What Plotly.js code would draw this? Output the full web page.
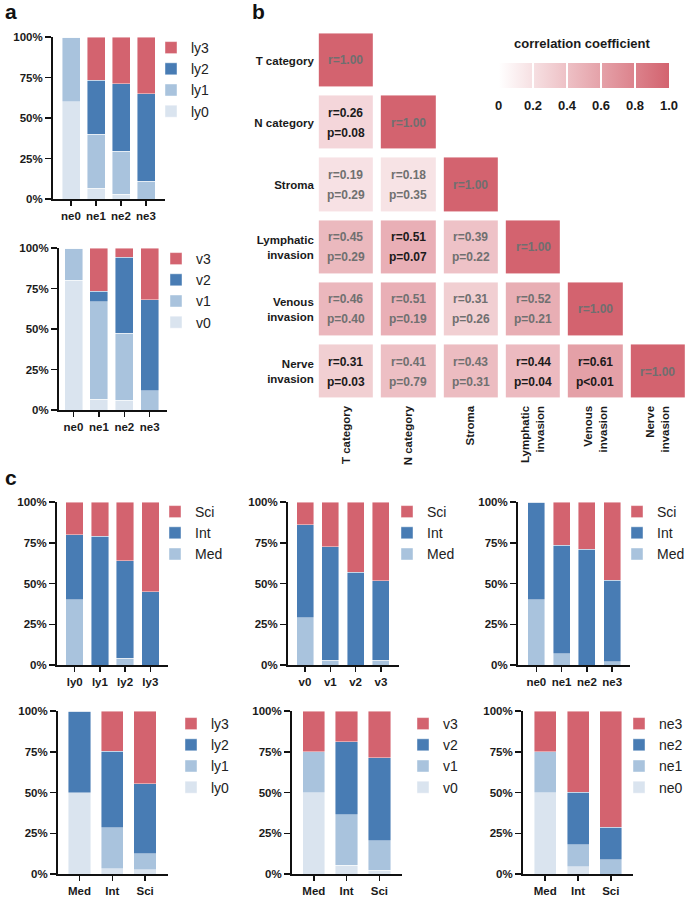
<!DOCTYPE html>
<html>
<head>
<meta charset="utf-8">
<script src="https://cdn.plot.ly/plotly-3.0.1.min.js"></script>
<style>
  html, body { margin: 0; padding: 0; background: #fff; }
  #chart { width: 685px; height: 897px; }
</style>
</head>
<body>
<div id="chart"></div>
<script>
const W = 685, H = 897;
const FONT = "Liberation Sans, Arial, sans-serif";

// category labels
const neCats = ["ne0", "ne1", "ne2", "ne3"];
const lyCats = ["ly0", "ly1", "ly2", "ly3"];
const vCats = ["v0", "v1", "v2", "v3"];
const siteCats = ["Med", "Int", "Sci"];
const pctTicks = [0, 25, 50, 75, 100];
const pctTickText = ["0%", "25%", "50%", "75%", "100%"];

// percent shares: one row per stacked level, one column per x category
const lyWithinNe = [
  [60, 6.7, 3, 0],
  [40, 33.3, 26.5, 11],
  [0, 33.3, 41.5, 54],
  [0, 26.7, 29, 35]
];
const vWithinNe = [
  [80, 6.7, 6, 0],
  [20, 60, 41.3, 12],
  [0, 6.7, 47.1, 56],
  [0, 26.6, 5.6, 32]
];
const siteWithinLy = [
  [40, 0, 4, 0],
  [40, 79, 60, 45],
  [20, 21, 36, 55]
];
const siteWithinV = [
  [29, 3, 0, 3],
  [57, 69.4, 57, 48.7],
  [14, 27.6, 43, 48.3]
];
const siteWithinNe = [
  [40, 7, 0, 2],
  [60, 66.6, 71, 50],
  [0, 26.4, 29, 48]
];
const lyWithinSite = [
  [50, 3.3, 2.6],
  [0, 25, 9.7],
  [50, 47, 43],
  [0, 24.7, 44.7]
];
const vWithinSite = [
  [50, 5.5, 2.4],
  [25, 31, 18],
  [0, 44.5, 51],
  [25, 19, 28.6]
];
const neWithinSite = [
  [50, 4.3, 0],
  [25, 13.5, 8.6],
  [0, 32.5, 20.2],
  [25, 49.7, 71.2]
];

// correlation matrix (lower triangle)
const factorLabels = ["T category", "N category", "Stroma", "Lymphatic<br>invasion", "Venous<br>invasion", "Nerve<br>invasion"];
const corrR = [
  [1.00, null, null, null, null, null],
  [0.26, 1.00, null, null, null, null],
  [0.19, 0.18, 1.00, null, null, null],
  [0.45, 0.51, 0.39, 1.00, null, null],
  [0.46, 0.51, 0.31, 0.52, 1.00, null],
  [0.31, 0.41, 0.43, 0.44, 0.61, 1.00]
];
const corrP = [
  [null, null, null, null, null, null],
  ["0.08", null, null, null, null, null],
  ["0.29", "0.35", null, null, null, null],
  ["0.29", "0.07", "0.22", null, null, null],
  ["0.40", "0.19", "0.26", "0.21", null, null],
  ["0.03", "0.79", "0.31", "0.04", "<0.01", null]
];
const colorbarTicks = [0, 0.2, 0.4, 0.6, 0.8, 1.0];
const colorbarTickText = ["0", "0.2", "0.4", "0.6", "0.8", "1.0"];

const levelColors = ["#DAE4EF", "#A9C3DD", "#487CB4", "#D3636F"];
const siteColors = ["#A9C3DD", "#487CB4", "#D3636F"];
const heatRed = "#D3636F";

// panel geometry in pixels
const panels = [
  { cats: neCats, series: lyCats, values: lyWithinNe, colors: levelColors,
    geo: { axisX: 53, endX: 165, first: 71, step: 25, barW: 18, top: 37, bottom: 199 },
    leg: { textX: 191, firstY: 47 } },
  { cats: neCats, series: vCats, values: vWithinNe, colors: levelColors,
    geo: { axisX: 59, endX: 167, first: 73.5, step: 25.4, barW: 18, top: 248, bottom: 410 },
    leg: { textX: 196, firstY: 258 } },
  { cats: lyCats, series: siteCats, values: siteWithinLy, colors: siteColors,
    geo: { axisX: 57, endX: 168, first: 74.7, step: 25.2, barW: 17.5, top: 502, bottom: 665 },
    leg: { textX: 195, firstY: 511 } },
  { cats: vCats, series: siteCats, values: siteWithinV, colors: siteColors,
    geo: { axisX: 288, endX: 399, first: 305, step: 25.3, barW: 17, top: 502, bottom: 665 },
    leg: { textX: 427, firstY: 511 } },
  { cats: neCats, series: siteCats, values: siteWithinNe, colors: siteColors,
    geo: { axisX: 518, endX: 630, first: 536.3, step: 25.3, barW: 17, top: 502, bottom: 665 },
    leg: { textX: 657, firstY: 511 } },
  { cats: siteCats, series: lyCats, values: lyWithinSite, colors: levelColors,
    geo: { axisX: 58, endX: 168, first: 79.5, step: 32.8, barW: 22.3, top: 711, bottom: 874 },
    leg: { textX: 211, firstY: 723 } },
  { cats: siteCats, series: vCats, values: vWithinSite, colors: levelColors,
    geo: { axisX: 292, endX: 402, first: 313.8, step: 32.8, barW: 22.3, top: 711, bottom: 874 },
    leg: { textX: 443, firstY: 723 } },
  { cats: siteCats, series: neCats, values: neWithinSite, colors: levelColors,
    geo: { axisX: 523, endX: 633, first: 545.2, step: 32.8, barW: 22, top: 711, bottom: 874 },
    leg: { textX: 659, firstY: 723 } }
];

// colour bar placement (pixels)
const cbar = { left: 499, width: 170, top: 63, thick: 25, labelY: 105 };

const traces = [];
const layout = {
  width: W,
  height: H,
  margin: { l: 0, r: 0, t: 0, b: 0, autoexpand: false },
  paper_bgcolor: "#ffffff",
  plot_bgcolor: "rgba(0,0,0,0)",
  barmode: "stack",
  showlegend: true,
  font: { family: FONT, color: "#1a1a1a" },
  annotations: []
};

panels.forEach((p, k) => {
  const ax = k === 0 ? "" : String(k + 1);
  const legName = k === 0 ? "legend" : "legend" + (k + 1);
  const g = p.geo;

  p.series.forEach((name, s) => {
    traces.push({
      type: "bar",
      x: p.cats,
      y: p.values[s],
      name: name,
      width: g.barW / g.step,
      marker: { color: p.colors[s], line: { color: "rgba(255,255,255,0.55)", width: 0.8 } },
      xaxis: "x" + ax,
      yaxis: "y" + ax,
      legend: legName,
      hovertemplate: name + ": %{y:.1f}%<extra></extra>"
    });
  });

  layout["xaxis" + ax] = {
    domain: [g.axisX / W, g.endX / W],
    anchor: "y" + ax,
    type: "category",
    range: [-(g.first - g.axisX) / g.step, (g.endX - g.first) / g.step],
    showline: true,
    linewidth: 2,
    linecolor: "#111",
    ticks: "outside",
    ticklen: 5,
    tickwidth: 1.5,
    tickcolor: "#111",
    tickfont: { size: 11.5, weight: "bold", color: "#1a1a1a" },
    showgrid: false,
    zeroline: false,
    fixedrange: true
  };
  layout["yaxis" + ax] = {
    domain: [1 - g.bottom / H, 1 - g.top / H],
    anchor: "x" + ax,
    range: [0, 100],
    tickmode: "array",
    tickvals: pctTicks,
    ticktext: pctTickText,
    showline: true,
    linewidth: 2,
    linecolor: "#111",
    ticks: "outside",
    ticklen: 6,
    tickwidth: 1.5,
    tickcolor: "#111",
    tickfont: { size: 11.5, weight: "bold", color: "#1a1a1a" },
    showgrid: false,
    zeroline: false,
    fixedrange: true
  };
  layout[legName] = {
    x: (p.leg.textX - 40) / W,
    xanchor: "left",
    y: 1 - (p.leg.firstY - 15) / H,
    yanchor: "top",
    traceorder: "reversed",
    bgcolor: "rgba(0,0,0,0)",
    borderwidth: 0,
    font: { family: FONT, size: 14, color: "#222" }
  };
});

// correlation heatmap
traces.push({
  type: "heatmap",
  z: corrR,
  x: factorLabels,
  y: factorLabels,
  xaxis: "x9",
  yaxis: "y9",
  zmin: 0,
  zmax: 1,
  colorscale: [[0, "#ffffff"], [1, heatRed]],
  xgap: 8,
  ygap: 9,
  hoverongaps: false,
  showscale: true,
  colorbar: {
    orientation: "h",
    x: cbar.left / W,
    xanchor: "left",
    y: 1 - cbar.top / H,
    yanchor: "top",
    len: cbar.width,
    lenmode: "pixels",
    thickness: cbar.thick,
    thicknessmode: "pixels",
    outlinewidth: 0,
    xpad: 0,
    ypad: 0,
    tickmode: "array",
    tickvals: colorbarTicks,
    ticks: "inside",
    ticklen: cbar.thick,
    tickwidth: 1.5,
    tickcolor: "#ffffff",
    showticklabels: false
  }
});

// colour bar tick labels, placed along the bar from the tick values
colorbarTicks.forEach((t, i) => {
  layout.annotations.push({
    x: (cbar.left + t * cbar.width) / W,
    y: 1 - cbar.labelY / H,
    xref: "paper", yref: "paper",
    xanchor: "center", yanchor: "middle",
    text: colorbarTickText[i], showarrow: false,
    font: { size: 13, weight: "bold", color: "#1a1a1a" }
  });
});

layout.xaxis9 = {
  domain: [314.8 / W, 1],
  anchor: "y9",
  type: "category",
  range: [-0.5, 5.436],
  showline: false,
  ticks: "",
  tickangle: -90,
  tickfont: { size: 11.5, weight: "bold", color: "#1a1a1a" },
  showgrid: false,
  zeroline: false,
  fixedrange: true
};
layout.yaxis9 = {
  domain: [1 - 402.6 / H, 1 - 29.4 / H],
  anchor: "x9",
  type: "category",
  range: [5.5, -0.5],
  showline: false,
  ticks: "",
  tickfont: { size: 11.5, weight: "bold", color: "#1a1a1a" },
  showgrid: false,
  zeroline: false,
  fixedrange: true
};

function isSignificant(p) {
  if (p.startsWith("<")) return true;
  return parseFloat(p) < 0.1;
}

for (let i = 0; i < corrR.length; i++) {
  for (let j = 0; j <= i; j++) {
    const base = {
      x: factorLabels[j],
      y: factorLabels[i],
      xref: "x9",
      yref: "y9",
      showarrow: false
    };
    if (i === j) {
      layout.annotations.push({
        ...base,
        text: "r=" + corrR[i][j].toFixed(2),
        font: { size: 12, weight: "bold", color: "#6f6f6f" }
      });
      continue;
    }
    const p = corrP[i][j];
    const col = isSignificant(p) ? "#1a1a1a" : "#707070";
    const pText = p.startsWith("<") ? "p" + p : "p=" + p;
    layout.annotations.push({
      ...base,
      text: "r=" + corrR[i][j].toFixed(2),
      yshift: 10,
      font: { size: 12, weight: "bold", color: col }
    });
    layout.annotations.push({
      ...base,
      text: pText,
      yshift: -10,
      font: { size: 12, weight: "bold", color: col }
    });
  }
}

layout.annotations.push({
  x: 582 / W, y: 1 - 43 / H, xref: "paper", yref: "paper",
  xanchor: "center", yanchor: "middle",
  text: "correlation coefficient", showarrow: false,
  font: { size: 13, weight: "bold", color: "#1a1a1a" }
});

// panel letters
[["a", 3, 12], ["b", 250, 11], ["c", 3, 477]].forEach(([t, x, y]) => {
  layout.annotations.push({
    x: x / W, y: 1 - y / H, xref: "paper", yref: "paper",
    xanchor: "left", yanchor: "middle",
    text: t, showarrow: false,
    font: { size: 21, weight: "bold", color: "#111" }
  });
});

Plotly.newPlot("chart", traces, layout, { displayModeBar: false, staticPlot: true });
</script>
</body>
</html>
